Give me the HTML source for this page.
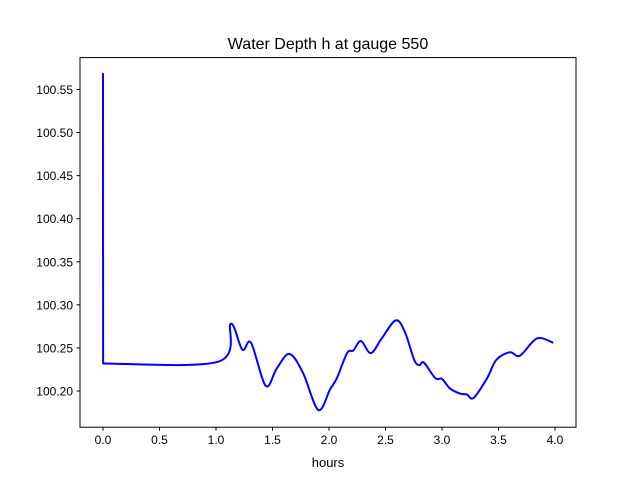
<!DOCTYPE html>
<html><head><meta charset="utf-8"><style>body{margin:0;background:#fff}svg{display:block}text{font-family:"Liberation Sans","DejaVu Sans",sans-serif}</style></head>
<body>
<svg id="chart" width="640" height="480">
<rect x="0" y="0" width="640" height="480" fill="#fff"/>
<text x="328" y="49" font-size="16" text-anchor="middle">Water Depth h at gauge 550</text>
<g id="axes"></g>
<path id="line" fill="none" stroke="#0000ff" stroke-width="2" stroke-linejoin="round"/>
<rect x="80" y="57.6" width="496" height="369.6" fill="none" stroke="#000" stroke-width="1"/>
<text x="328" y="467" font-size="13" text-anchor="middle">hours</text>
</svg>
<script>
const hours=[0,0.001,1.02,1.13,1.233,1.31,1.44,1.537,1.65,1.77,1.905,2.01,2.07,2.16,2.215,2.283,2.37,2.466,2.59,2.67,2.755,2.8,2.84,2.94,3.0,3.07,3.16,3.22,3.28,3.4,3.48,3.6,3.69,3.84,3.985];
const depth=[100.569,100.232,100.234,100.278,100.248,100.256,100.206,100.226,100.243,100.221,100.178,100.202,100.215,100.244,100.247,100.258,100.244,100.261,100.282,100.269,100.236,100.230,100.233,100.215,100.214,100.203,100.197,100.196,100.192,100.215,100.236,100.245,100.241,100.261,100.256];
const xTicks=[0,0.5,1,1.5,2,2.5,3,3.5,4];
const xTickLabels=["0.0","0.5","1.0","1.5","2.0","2.5","3.0","3.5","4.0"];
const yTicks=[100.20,100.25,100.30,100.35,100.40,100.45,100.50,100.55];
const yTickLabels=["100.20","100.25","100.30","100.35","100.40","100.45","100.50","100.55"];
const X0=-0.2035,X1=4.186,Y0=100.158,Y1=100.587;
const L=80,R=576,T=57.6,B=427.2;
const xs=v=>L+(v-X0)/(X1-X0)*(R-L);
const ys=v=>B-(v-Y0)/(Y1-Y0)*(B-T);
const NS='http://www.w3.org/2000/svg';
const ax=document.getElementById('axes');
function mk(t,a){const e=document.createElementNS(NS,t);for(const k in a)e.setAttribute(k,a[k]);return e;}
xTicks.forEach((v,i)=>{const x=xs(v);
const tk=mk('line',{x1:x,x2:x,y1:B,y2:B+3.5,stroke:'#000'});

ax.appendChild(tk);
const t=mk('text',{x:x,y:B+17,'font-size':12,'text-anchor':'middle'});t.textContent=xTickLabels[i];

ax.appendChild(t);});
yTicks.forEach((v,i)=>{const y=ys(v);
const tk=mk('line',{x1:L-3.5,x2:L,y1:y,y2:y,stroke:'#000'});

ax.appendChild(tk);
const t=mk('text',{x:L-7,y:y+4.5,'font-size':12,'text-anchor':'end'});t.textContent=yTickLabels[i];

ax.appendChild(t);});
const P=hours.map((h,i)=>[xs(h),ys(depth[i])]);
let d='M'+P[0][0]+','+P[0][1]+' L'+P[1][0]+','+P[1][1];
for(let i=1;i<P.length-1;i++){const p0=P[Math.max(i-1,1)],p1=P[i],p2=P[i+1],p3=P[Math.min(i+2,P.length-1)];
const c1=[p1[0]+(p2[0]-p0[0])/6,p1[1]+(p2[1]-p0[1])/6],c2=[p2[0]-(p3[0]-p1[0])/6,p2[1]-(p3[1]-p1[1])/6];
d+=' C'+c1+' '+c2+' '+p2;}
document.getElementById('line').setAttribute('d',d);
</script>
</body></html>
